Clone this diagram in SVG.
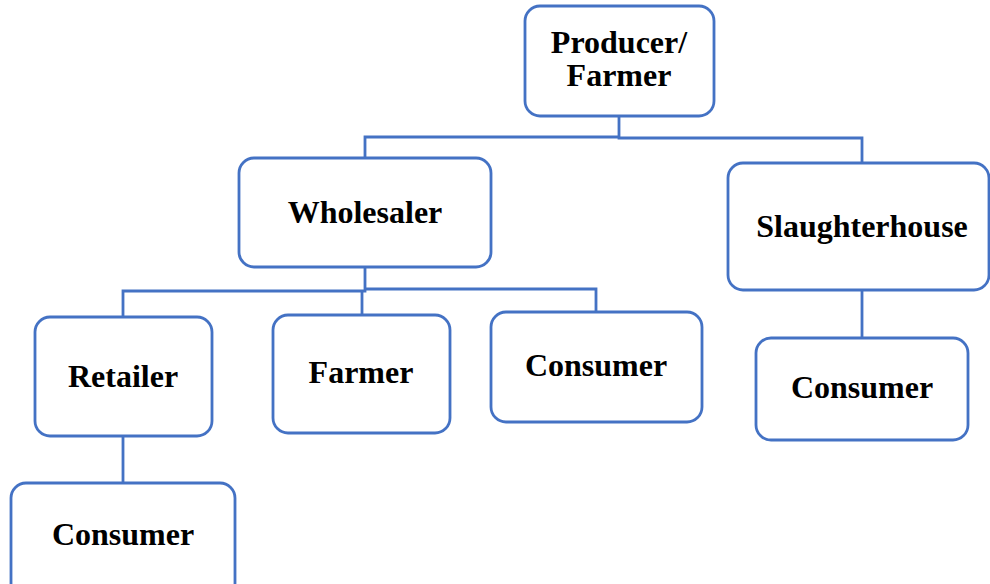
<svg xmlns="http://www.w3.org/2000/svg" width="990" height="584" viewBox="0 0 990 584">
<style>
.box{fill:#fff;stroke:#4472C4;stroke-width:2.8}
.lbl{font-family:"Liberation Serif","Times New Roman",serif;font-weight:bold;font-size:32px;fill:#000;text-anchor:middle}
.conn{fill:none;stroke:#4472C4;stroke-width:2.8}
</style>
<rect width="990" height="584" fill="#fff"/>
<g id="connectors">
<path class="conn" d="M619,116 V137 H365 V158"/>
<path class="conn" d="M619,137 V138 H862 V163"/>
<path class="conn" d="M862,290 V338"/>
<path class="conn" d="M365,267 V291 H123 V317"/>
<path class="conn" d="M362,291 V315"/>
<path class="conn" d="M365,289 H596 V312"/>
<path class="conn" d="M123,436 V483"/>
</g>
<g id="producer">
<rect class="box" x="525" y="6" width="189" height="110" rx="15"/>
<text class="lbl" x="619" y="53">Producer/</text>
<text class="lbl" x="619" y="86">Farmer</text>
</g>
<g id="wholesaler">
<rect class="box" x="239" y="158" width="252" height="109" rx="15"/>
<text class="lbl" x="365" y="223">Wholesaler</text>
</g>
<g id="slaughterhouse">
<rect class="box" x="728" y="163" width="261" height="127" rx="15"/>
<text class="lbl" x="862" y="237">Slaughterhouse</text>
</g>
<g id="consumer-slaughter">
<rect class="box" x="756" y="338" width="212" height="102" rx="15"/>
<text class="lbl" x="862" y="398">Consumer</text>
</g>
<g id="retailer">
<rect class="box" x="35" y="317" width="177" height="119" rx="15"/>
<text class="lbl" x="123" y="387">Retailer</text>
</g>
<g id="farmer">
<rect class="box" x="273" y="315" width="177" height="118" rx="15"/>
<text class="lbl" x="361" y="383">Farmer</text>
</g>
<g id="consumer-wholesale">
<rect class="box" x="491" y="312" width="211" height="110" rx="15"/>
<text class="lbl" x="596" y="376">Consumer</text>
</g>
<g id="consumer-retail">
<rect class="box" x="11" y="483" width="224" height="115" rx="15"/>
<text class="lbl" x="123" y="545">Consumer</text>
</g>
</svg>
